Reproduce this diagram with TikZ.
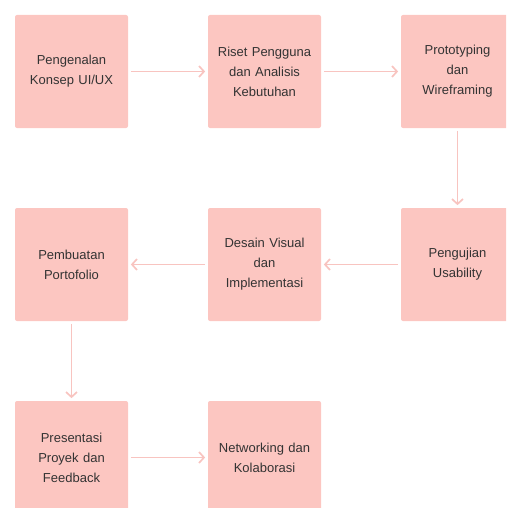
\documentclass[tikz,border=0pt]{standalone}
\usepackage{fontspec}
\setmainfont{Liberation Sans}
\usetikzlibrary{arrows.meta}
\definecolor{boxpink}{HTML}{FCC6C1}
\definecolor{arrowpink}{HTML}{F8C4C0}
\definecolor{textgray}{HTML}{333333}

\begin{document}
\begin{tikzpicture}[->,>={Straight Barb[length=5pt,width=11pt]},shorten >=2pt,shorten <=2pt,node distance=193pt,line width=1.7pt,main node/.style={rectangle,rounded corners=2pt,fill=boxpink,minimum width=113pt,minimum height=113pt,text width=105pt,align=center,text=textgray,font=\fontsize{13}{20}\selectfont}]
            \useasboundingbox (0,0) rectangle (506pt,-508pt);
            \clip (0,0) rectangle (506pt,-508pt);

            \node[main node] (1) at (71.5pt,-71.5pt) {Pengenalan\\Konsep UI/UX};
            \node[main node] (2) [right of = 1] {Riset Pengguna\\dan Analisis\\Kebutuhan};
            \node[main node] (3) [right of = 2] {Prototyping\\dan\\Wireframing};

            \node[main node] (4) [below of = 3] {Pengujian\\Usability};
            \node[main node] (5) [left of = 4] {Desain Visual\\dan\\Implementasi};
            \node[main node] (6) [left of = 5] {Pembuatan\\Portofolio};

            \node[main node] (7) [below of = 6] {Presentasi\\Proyek dan\\Feedback};
            \node[main node] (8) [right of = 7] {Networking dan\\Kolaborasi};

            \path[draw=arrowpink]
                (1) edge (2)
                (2) edge (3)
                (3) edge (4)
                (4) edge (5)
                (5) edge (6)
                (6) edge (7)
                (7) edge (8)
            ;
        \end{tikzpicture}
\end{document}
